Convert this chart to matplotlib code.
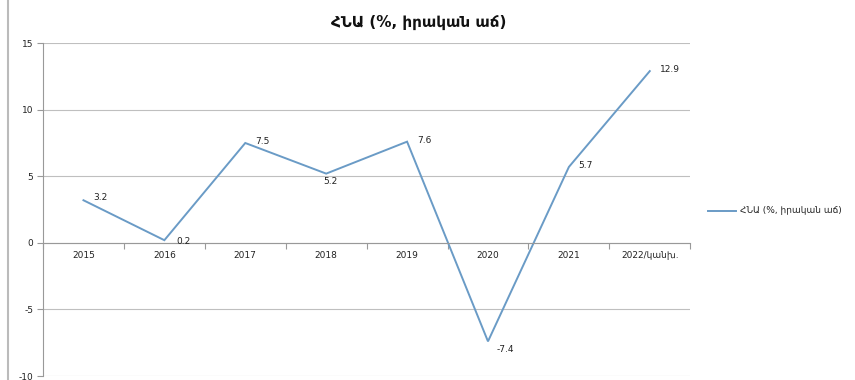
import matplotlib
matplotlib.use("Agg")
import matplotlib.pyplot as plt
from matplotlib.lines import Line2D

plt.rcParams['font.family'] = ['DejaVu Sans', 'Noto Sans']

categories = ["2015", "2016", "2017", "2018", "2019", "2020", "2021", "2022/կանխ."]
values = [3.2, 0.2, 7.5, 5.2, 7.6, -7.4, 5.7, 12.9]
series_name = "ՀՆԱ (%, իրական աճ)"
title = "ՀՆԱ (%, իրական աճ)"
yticks = [-10, -5, 0, 5, 10, 15]

line_color = "#6a9bc6"
grid_color = "#bfbfbf"

fig = plt.figure(figsize=(8.55, 3.8), dpi=100)
ax = fig.add_axes([0.0503, 0.0105, 0.757, 0.876])

x = [i + 0.5 for i in range(len(categories))]
ax.plot(x, values, color=line_color, lw=1.4, solid_joinstyle='miter')

ax.set_xlim(0, len(categories))
ax.set_ylim(-10, 15)
ax.set_yticks(yticks)
ax.set_yticklabels([str(v) for v in yticks], fontsize=6.5, color="#222222")
ax.yaxis.grid(True, color=grid_color, lw=0.8)
ax.set_axisbelow(True)

for s in ['top', 'right']:
    ax.spines[s].set_visible(False)
ax.spines['left'].set_color("#999999")
ax.spines['bottom'].set_position(('data', 0))
ax.spines['bottom'].set_color("#999999")
ax.tick_params(axis='y', length=4, color="#999999", pad=3)

ax.set_xticks(range(len(categories) + 1))
ax.set_xticklabels([])
ax.tick_params(axis='x', which='major', length=4, direction='out', color="#999999")
ax.set_xticks(x, minor=True)
ax.set_xticklabels(categories, minor=True, fontsize=6.5, color="#222222")
ax.tick_params(axis='x', which='minor', length=0, pad=6)

offsets = [(7, 2), (9, -1), (7, 1), (-2, -6), (7, 1), (6, -6), (7, 1), (7, 1)]
for xi, v, off in zip(x, values, offsets):
    ax.annotate(f"{v}", (xi, v), xytext=off, textcoords='offset points',
                fontsize=6.5, color="#222222", va='center', ha='left')

fig.text(0.49, 0.94, title, fontsize=11, fontweight='bold', ha='center', va='center',
         color="#111111")

leg_y = 1 - 211 / 380
fig.add_artist(Line2D([708 / 855, 736 / 855], [leg_y, leg_y], color=line_color, lw=1.4))
fig.text(740 / 855, leg_y, series_name, fontsize=6.5, va='center', ha='left', color="#222222")

fig.add_artist(Line2D([8 / 855, 8 / 855], [0, 1], color="#bbbbbb", lw=1.5))

fig.savefig("out.png", dpi=100)
